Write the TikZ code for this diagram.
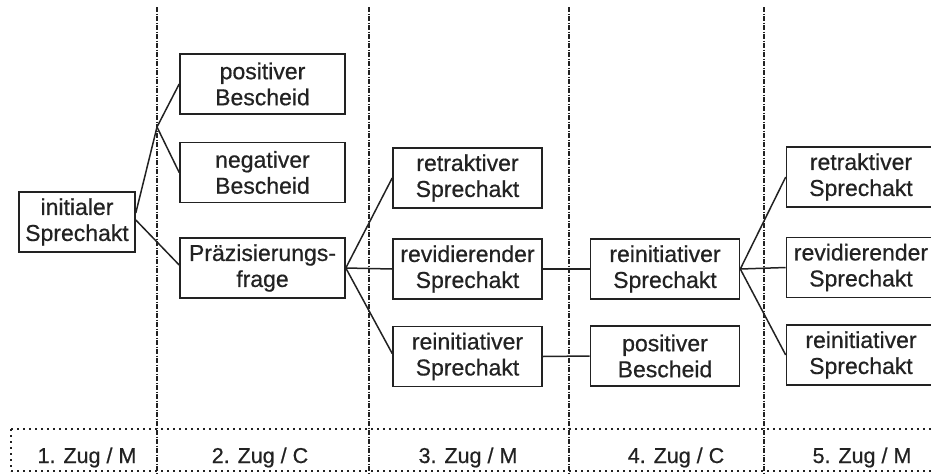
\documentclass[tikz,border=0pt]{standalone}
\usepackage{fontspec}
\setmainfont[FakeBold=0.6]{Liberation Sans}
\definecolor{ink}{HTML}{222222}
\begin{document}
\begin{tikzpicture}[x=1pt,y=-1pt,
  box/.style={draw=ink, line width=1.6pt, align=center, inner sep=0pt, font=\fontsize{23}{26}\selectfont, text=ink},
  c3/.style={box, minimum width=149pt, minimum height=60pt},
  c2/.style={box, minimum width=165pt, minimum height=60pt},
  conn/.style={draw=ink, line width=1.5pt},
  colline/.style={draw=ink, line width=1.2pt, dash pattern=on 5pt off 1.5pt on 1pt off 1.5pt},
  dotline/.style={draw=ink, line width=1.8pt, dash pattern=on 1.8pt off 4.2pt},
  lab/.style={font=\fontsize{21.5}{26}\selectfont, text=ink, anchor=base}]
\useasboundingbox (0,0) rectangle (931,474);
% column separators
\foreach \x in {157,369,569,764} \draw[colline] (\x,7) -- (\x,474);
% bottom bar
\draw[dotline] (11,429) -- (931,429);
\draw[dotline] (11,471) -- (931,471);
\draw[dotline] (11,429) -- (11,471);
% labels
\node[lab] (z1) at (87,463) {1. Zug / M};
\node[lab] (z2) at (260,463) {2. Zug / C};
\node[lab] (z3) at (468,463) {3. Zug / M};
\node[lab] (z4) at (676,463) {4. Zug / C};
\node[lab] (z5) at (862,463) {5. Zug / M};
% boxes
\node[box, minimum width=116pt, minimum height=60pt] (init) at (77,222) {initialer\\Sprechakt};
\node[c2] (pos2) at (262.5,84) {positiver\\Bescheid};
\node[c2] (neg2) at (262.5,172.5) {negativer\\Bescheid};
\node[c2] (praez) at (262.5,268) {Präzisierungs-\\frage};
\node[c3] (ret3) at (467.5,178) {retraktiver\\Sprechakt};
\node[c3] (rev3) at (467.5,269) {revidierender\\Sprechakt};
\node[c3] (rei3) at (467.5,356.5) {reinitiativer\\Sprechakt};
\node[c3] (rei4) at (665,269) {reinitiativer\\Sprechakt};
\node[c3] (pos4) at (665,356) {positiver\\Bescheid};
\node[c3] (ret5) at (861,177) {retraktiver\\Sprechakt};
\node[c3] (rev5) at (861,267.5) {revidierender\\Sprechakt};
\node[c3] (rei5) at (861,355) {reinitiativer\\Sprechakt};
% connectors
\coordinate (f1) at (157,127);
\draw[conn] ([yshift=9pt]init.east) -- (f1);
\draw[conn] (f1) -- (pos2.west);
\draw[conn] (f1) -- (neg2.west);
\draw[conn] ([yshift=2pt]init.east) -- ([yshift=3pt]praez.west);
\draw[conn] (praez.east) -- (ret3.west);
\draw[conn] (praez.east) -- (rev3.west);
\draw[conn] (praez.east) -- ([yshift=3pt]rei3.west);
\draw[conn] (rev3.east) -- (rei4.west);
\draw[conn] (rei3.east) -- (pos4.west);
\draw[conn] (rei4.east) -- (ret5.west);
\draw[conn] (rei4.east) -- (rev5.west);
\draw[conn] (rei4.east) -- (rei5.west);
\end{tikzpicture}
\end{document}
